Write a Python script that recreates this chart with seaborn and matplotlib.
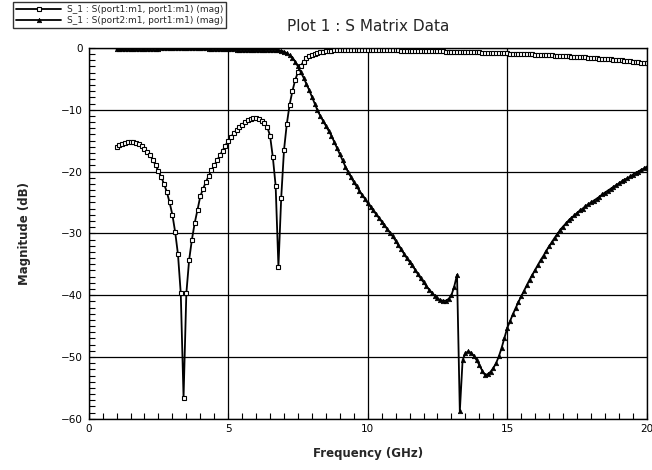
import numpy as np
import pandas as pd
import matplotlib
matplotlib.use("Agg")
import matplotlib.pyplot as plt
import seaborn as sns
from matplotlib.ticker import MultipleLocator

# ---------------- data ----------------
freq = np.round(np.arange(1.0, 20.05, 0.1), 1)  # GHz sweep

s11_mag = [
    -16.1, -15.75, -15.5, -15.35, -15.25, -15.2, -15.25, -15.4, -15.6, -15.9,
    -16.3, -16.8, -17.4, -18.1, -19.0, -19.9, -20.9, -22.0, -23.3, -25.0,
    -27.0, -29.8, -33.4, -39.7, -56.6, -39.7, -34.3, -31.0, -28.3, -26.2,
    -24.0, -22.8, -21.7, -20.7, -19.8, -19.0, -18.2, -17.4, -16.6, -15.8,
    -15.0, -14.4, -13.8, -13.3, -12.8, -12.4, -12.0, -11.7, -11.5, -11.4,
    -11.4, -11.5, -11.8, -12.2, -12.8, -14.2, -17.7, -22.3, -35.4, -24.2,
    -16.5, -12.3, -9.2, -7.0, -5.2, -3.9, -2.9, -2.2, -1.7, -1.35,
    -1.1, -0.9, -0.75, -0.65, -0.58, -0.52, -0.47, -0.43, -0.4, -0.38,
    -0.36, -0.35, -0.34, -0.34, -0.33, -0.33, -0.33, -0.33, -0.33, -0.34,
    -0.34, -0.35, -0.35, -0.36, -0.36, -0.37, -0.37, -0.38, -0.39, -0.39,
    -0.40, -0.41, -0.42, -0.42, -0.43, -0.44, -0.45, -0.46, -0.47, -0.48,
    -0.49, -0.50, -0.51, -0.52, -0.53, -0.54, -0.55, -0.56, -0.58, -0.59,
    -0.60, -0.61, -0.63, -0.64, -0.65, -0.66, -0.68, -0.69, -0.70, -0.72,
    -0.73, -0.74, -0.76, -0.77, -0.79, -0.80, -0.82, -0.83, -0.85, -0.86,
    -0.88, -0.90, -0.91, -0.93, -0.95, -0.97, -0.99, -1.01, -1.03, -1.05,
    -1.07, -1.09, -1.11, -1.14, -1.16, -1.18, -1.21, -1.23, -1.26, -1.28,
    -1.31, -1.34, -1.36, -1.39, -1.42, -1.45, -1.48, -1.51, -1.54, -1.57,
    -1.60, -1.64, -1.67, -1.71, -1.74, -1.78, -1.82, -1.86, -1.90, -1.94,
    -1.98, -2.03, -2.08, -2.13, -2.18, -2.23, -2.28, -2.33, -2.39, -2.45,
    -2.5,
]

s21_mag = [
    -0.2, -0.18, -0.16, -0.15, -0.14, -0.14, -0.14, -0.14, -0.15, -0.15,
    -0.15, -0.14, -0.13, -0.12, -0.11, -0.1, -0.09, -0.08, -0.07, -0.06,
    -0.05, -0.04, -0.03, -0.03, -0.03, -0.03, -0.03, -0.04, -0.05, -0.06,
    -0.07, -0.08, -0.09, -0.1, -0.11, -0.12, -0.13, -0.14, -0.16, -0.18,
    -0.2, -0.22, -0.24, -0.26, -0.28, -0.29, -0.3, -0.31, -0.32, -0.32,
    -0.32, -0.32, -0.31, -0.3, -0.29, -0.28, -0.27, -0.28, -0.35, -0.45,
    -0.6, -0.85, -1.15, -1.55, -2.2, -3.0, -3.9, -4.8, -5.8, -6.8,
    -7.9, -9.0, -10.1, -11.0, -11.8, -12.6, -13.4, -14.2, -15.2, -16.2,
    -17.2, -18.2, -19.2, -20.1, -20.9, -21.7, -22.4, -23.1, -23.8, -24.4,
    -25.1, -25.7, -26.3, -26.9, -27.5, -28.1, -28.7, -29.3, -29.9, -30.5,
    -31.2, -31.9, -32.6, -33.3, -34.0, -34.6, -35.2, -35.9, -36.6, -37.3,
    -37.9, -38.5, -39.1, -39.6, -40.1, -40.5, -40.8, -40.9, -40.9, -40.6,
    -40.0, -38.6, -36.7, -58.8, -50.5, -49.4, -49.1, -49.3, -49.8, -50.5,
    -51.3, -52.2, -52.9, -52.8, -52.4, -51.8, -51.0, -49.9, -48.5, -46.9,
    -45.3, -44.2, -43.1, -42.1, -41.1, -40.2, -39.3, -38.4, -37.5, -36.7,
    -35.9, -35.1, -34.3, -33.6, -32.8, -32.1, -31.4, -30.7, -30.1, -29.4,
    -28.9, -28.4, -27.9, -27.5, -27.1, -26.7, -26.3, -26.0, -25.6, -25.3,
    -25.0, -24.7, -24.4, -24.1, -23.7, -23.4, -23.1, -22.8, -22.5, -22.2,
    -21.9, -21.6, -21.3, -21.1, -20.8, -20.5, -20.2, -20.0, -19.7, -19.5,
    -19.2,
]

series_labels = ["S_1 : S(port1:m1, port1:m1) (mag)",
                 "S_1 : S(port2:m1, port1:m1) (mag)"]
x_ticks = [0, 5, 10, 15, 20]
y_ticks = [0, -10, -20, -30, -40, -50, -60]
title = "Plot 1 : S Matrix Data"
x_label = "Frequency (GHz)"
y_label = "Magnitude (dB)"

# ---------------- style ----------------
sns.set_style("ticks")
plt.rcParams["font.family"] = ["DejaVu Sans"]

fig = plt.figure(figsize=(6.52, 4.70), dpi=100)
ax = fig.add_axes([0.136, 0.109, 0.856, 0.789])

df1 = pd.DataFrame({"f": freq, "v": s11_mag})
df2 = pd.DataFrame({"f": freq, "v": s21_mag})

sns.lineplot(data=df1, x="f", y="v", ax=ax, color="black", lw=1.3,
             marker="s", markersize=3.2, markerfacecolor="white",
             markeredgecolor="black", markeredgewidth=0.8,
             label=series_labels[0], legend=False)
sns.lineplot(data=df2, x="f", y="v", ax=ax, color="black", lw=1.3,
             marker="^", markersize=3.2, markerfacecolor="black",
             markeredgecolor="black", markeredgewidth=0.5,
             label=series_labels[1], legend=False)

ax.set_xlim(0, 20)
ax.set_ylim(-60, 0)
ax.set_xticks(x_ticks)
ax.set_yticks(y_ticks)
ax.xaxis.set_minor_locator(MultipleLocator(0.5))
ax.yaxis.set_minor_locator(MultipleLocator(1))
ax.tick_params(which="both", direction="in", top=False, right=False,
               colors="black", labelsize=7.5)
ax.tick_params(which="major", length=4, width=0.8, pad=4)
ax.tick_params(which="minor", length=4, width=0.8)
ax.grid(True, which="major", color="black", lw=0.9)
for sp in ax.spines.values():
    sp.set_color("black")
    sp.set_linewidth(1.0)

ax.set_title(title, fontsize=11, pad=12)
ax.set_xlabel(x_label, fontsize=8.5, fontweight="bold", labelpad=9)
ax.set_ylabel(y_label, fontsize=8.5, fontweight="bold", labelpad=22)

handles, labels = ax.get_legend_handles_labels()
leg = fig.legend(handles, labels, loc="upper left",
                 bbox_to_anchor=(0.02, 0.996), frameon=True,
                 fancybox=False, edgecolor="black", fontsize=6.5,
                 handlelength=5, numpoints=1, borderpad=0.35,
                 labelspacing=0.2, handletextpad=0.6, borderaxespad=0)
leg.get_frame().set_linewidth(1.0)

fig.savefig("out.png", dpi=100)
